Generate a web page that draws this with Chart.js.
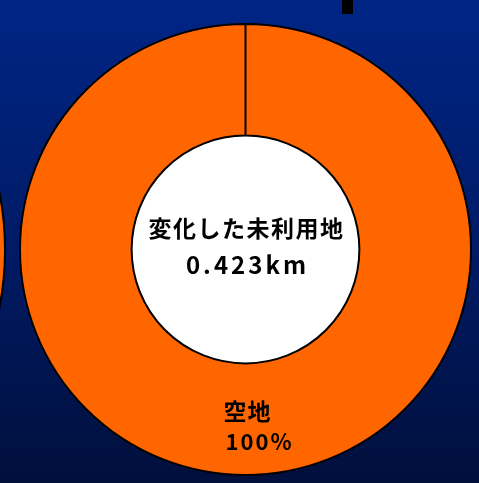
<!DOCTYPE html>
<html>
<head>
<meta charset="utf-8">
<script src="https://cdn.jsdelivr.net/npm/chart.js@4"></script>
<style>
    html, body {margin: 0; padding: 0;}
    body {
        width: 479px; height: 483px; overflow: hidden; position: relative;
        background: linear-gradient(to bottom, #002585 0%, #001c6a 45%, #000f3c 100%);}
    #wrap {position: absolute; left: 0; top: 0; width: 479px; height: 483px;}
    #side {position: absolute; left: -594px; top: -50px; width: 600px; height: 600px;}
    #mark {position: absolute; left: 342px; top: 0; width: 11px; height: 14px; background: #000;}
</style>
</head>
<body>
<div id="side"><canvas id="sideChart"></canvas></div>
<div id="wrap"><canvas id="landChart"></canvas></div>
<div id="mark"></div>

<script>

// Data

var categories = ['空地'];
var shares = [100];
var share_labels = ['100%'];
var center_title = '変化した未利用地';
var center_value = '0.423km';

var slice_color = '#ff6600';
var font_jp = "'Noto Sans CJK JP', 'DejaVu Sans', sans-serif";


// White hole + text inside the doughnut

var text_plugin = {
    id: 'landText',
    beforeDatasetsDraw: function(chart) {
        var ctx = chart.ctx;
        var arc = chart.getDatasetMeta(0).data[0];
        ctx.save();
        ctx.fillStyle = '#fff';
        ctx.beginPath();
        ctx.arc(arc.x, arc.y, arc.innerRadius, 0, Math.PI * 2);
        ctx.fill();
        ctx.restore();
    },
    afterDatasetsDraw: function(chart) {
        var ctx = chart.ctx;
        var arc = chart.getDatasetMeta(0).data[0];
        var cx = arc.x;
        var cy = arc.y;

        ctx.save();
        ctx.fillStyle = '#000';
        ctx.textBaseline = 'middle';
        ctx.textAlign = 'center';

        ctx.font = 'bold 23px ' + font_jp;
        ctx.letterSpacing = '1.5px';
        ctx.fillText(center_title, cx + 1, cy - 21);

        ctx.font = 'bold 24px ' + font_jp;
        ctx.letterSpacing = '3px';
        ctx.fillText(center_value, cx + 2, cy + 15);

        // slice labels
        for (var i = 0; i < categories.length; i++) {
            var p = chart.getDatasetMeta(0).data[i].getCenterPoint();
            ctx.textAlign = 'left';
            ctx.font = 'bold 23px ' + font_jp;
            ctx.letterSpacing = '1px';
            ctx.fillText(categories[i], p.x - 22, p.y - 8);
            ctx.font = 'bold 22px ' + font_jp;
            ctx.letterSpacing = '2px';
            ctx.fillText(share_labels[i], p.x - 20, p.y + 22);
        }
        ctx.restore();
    }
};


var ctx = document.getElementById('landChart').getContext('2d');

var chart_object = new Chart(ctx, {
    type: 'doughnut',
    data: {
        labels: categories,
        datasets: [{
            data: shares,
            backgroundColor: slice_color,
            borderColor: '#000',
            borderWidth: 2,}],},
    options: {
        responsive: true,
        maintainAspectRatio: false,
        animation: false,
        cutout: '50.5%',
        layout: {padding: {left: 19, right: 7, top: 22, bottom: 6}},
        plugins: {
            legend: {display: false},
            tooltip: {enabled: false},},
    },
    plugins: [text_plugin],
});


// Neighbouring pie, mostly off the page

var side_ctx = document.getElementById('sideChart').getContext('2d');

new Chart(side_ctx, {
    type: 'pie',
    data: {
        labels: categories,
        datasets: [{
            data: shares,
            backgroundColor: slice_color,
            borderColor: '#000',
            borderWidth: 2,}],},
    options: {
        responsive: true,
        maintainAspectRatio: false,
        animation: false,
        plugins: {
            legend: {display: false},
            tooltip: {enabled: false},},
    },
});

</script>
</body>
</html>
